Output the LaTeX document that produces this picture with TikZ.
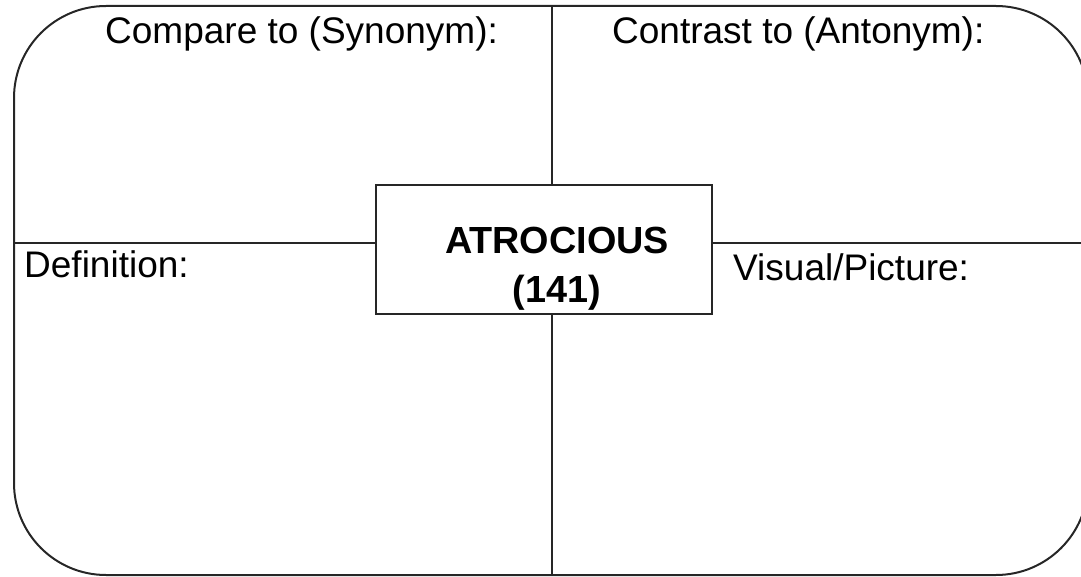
\documentclass[tikz,border=0pt]{standalone}
\usepackage{fontspec}
\setmainfont{Liberation Sans}
\begin{document}
\begin{tikzpicture}[x=1pt,y=-1pt,
  frame/.style={draw=black!85,line width=2pt},
  label/.style={anchor=base west,inner sep=0pt,font=\fontsize{37}{40}\selectfont},
  heading/.style={anchor=base,inner sep=0pt,font=\fontsize{37.8}{40}\selectfont\bfseries},
  wordbox/.style={frame,fill=white,minimum width=336pt,minimum height=129pt,inner sep=0pt}]
  \useasboundingbox (0,0) rectangle (1081,577);
  \clip (0,0) rectangle (1081,577);
  % outer rounded frame
  \draw[frame,rounded corners=92pt] (14,6) rectangle (1088,575);
  % quadrant dividers
  \coordinate (top) at (552,6);
  \coordinate (bottom) at (552,575);
  \coordinate (left) at (14,243);
  \coordinate (right) at (1088,243);
  \draw[frame] (top) -- (bottom);
  \draw[frame] (left) -- (right);
  % central word box
  \node[wordbox] (word) at (544,249.5) {};
  \node[heading] (title) at (557,254) {ATROCIOUS};
  \node[heading] (num) at (557,302) {(141)};
  % quadrant labels
  \node[label] (syn) at (105,43.5) {Compare to (Synonym):};
  \node[label] (ant) at (612,43.5) {Contrast to (Antonym):};
  \node[label] (def) at (24,277.5) {Definition:};
  \node[label] (vis) at (733,280.5) {Visual/Picture:};
\end{tikzpicture}
\end{document}
